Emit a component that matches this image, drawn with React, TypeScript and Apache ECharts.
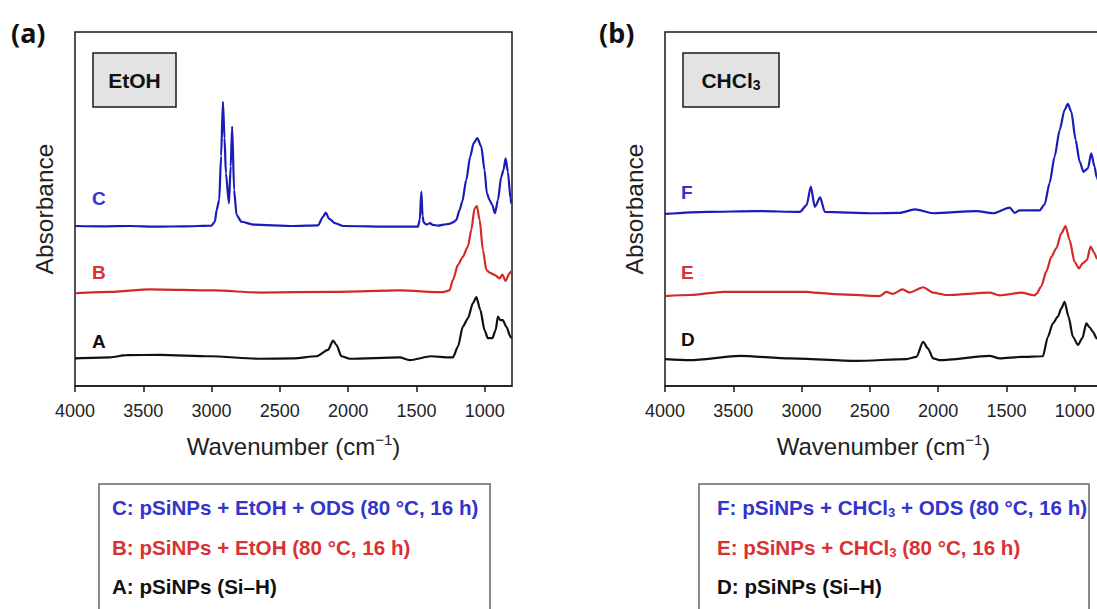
import React, { useEffect, useRef } from 'react';
import * as echarts from 'echarts';

// ---- Data (wavenumber cm^-1, absorbance a.u. offset traces) ----
const tickValues = [4000, 3500, 3000, 2500, 2000, 1500, 1000];

const seriesC: [number, number][] = [
  [4000, 45.2], [3800, 45.1], [3600, 45.2], [3400, 45.0], [3200, 45.1], [3000, 45.3], [2975, 46.5],
  [2963, 49.7], [2944, 52.6], [2930, 65.0], [2917, 80.3], [2905, 70.0], [2895, 60.1], [2873, 51.6],
  [2860, 62.0], [2849, 73.3], [2835, 55.4], [2817, 48.3], [2781, 46.4], [2696, 45.6], [2403, 45.2],
  [2220, 45.4], [2184, 47.8], [2164, 49.0], [2140, 47.3], [2098, 46.0], [2037, 45.2], [1671, 45.0],
  [1489, 45.0], [1475, 47.0], [1464, 54.9], [1455, 48.0], [1447, 46.2], [1427, 45.6], [1400, 46.0],
  [1380, 45.5], [1340, 45.3], [1300, 45.6], [1260, 45.8], [1233, 46.2], [1208, 46.9], [1184, 49.7],
  [1164, 52.1], [1135, 58.2], [1106, 64.8], [1081, 68.6], [1054, 70.0], [1025, 67.6], [1001, 61.0],
  [984, 54.4], [964, 52.5], [944, 51.1], [925, 48.8], [903, 52.5], [879, 59.1], [862, 61.0],
  [847, 64.3], [830, 60.5], [811, 53.0], [805, 51.5],
];

const seriesB: [number, number][] = [
  [4000, 26.2], [3744, 26.6], [3451, 27.3], [2988, 27.0], [2647, 26.4], [2110, 26.6], [1623, 27.0],
  [1306, 26.5], [1257, 27.0], [1233, 29.9], [1196, 34.2], [1160, 36.5], [1123, 39.4], [1098, 44.1],
  [1074, 50.2], [1057, 50.8], [1037, 46.9], [1013, 38.4], [988, 32.8], [964, 32.0], [928, 31.4],
  [891, 30.4], [871, 31.5], [847, 29.7], [818, 31.8], [805, 32.5],
];

const seriesA: [number, number][] = [
  [4000, 7.8], [3744, 8.1], [3622, 8.7], [3378, 8.8], [3012, 8.4], [2647, 7.7], [2403, 7.8],
  [2232, 8.4], [2147, 10.2], [2110, 12.8], [2086, 11.6], [2049, 8.4], [1988, 7.7], [1623, 8.1],
  [1550, 7.3], [1391, 8.4], [1257, 8.1], [1233, 8.1], [1196, 11.1], [1160, 16.8], [1123, 19.1],
  [1086, 23.4], [1061, 25.1], [1032, 21.5], [1001, 15.8], [977, 13.5], [944, 13.5], [920, 15.8],
  [903, 19.6], [886, 18.6], [867, 18.6], [842, 16.8], [811, 13.9], [805, 13.5],
];

const seriesF: [number, number][] = [
  [4000, 48.6], [3695, 49.2], [3329, 49.4], [3012, 49.2], [2963, 51.1], [2932, 56.3], [2903, 50.6],
  [2864, 53.3], [2830, 49.2], [2476, 48.8], [2281, 48.9], [2171, 49.9], [2037, 48.8], [1720, 49.4],
  [1598, 48.8], [1476, 50.4], [1440, 48.9], [1403, 49.6], [1257, 49.6], [1220, 51.3], [1184, 57.3],
  [1147, 64.8], [1110, 72.3], [1074, 78.0], [1050, 79.7], [1025, 77.5], [993, 69.5], [964, 63.4],
  [935, 60.5], [903, 61.5], [879, 65.7], [854, 61.9], [840, 59.1], [820, 57.0],
];

const seriesE: [number, number][] = [
  [4000, 25.4], [3817, 25.7], [3573, 26.6], [3208, 26.6], [2963, 26.6], [2915, 26.4], [2720, 25.9],
  [2427, 25.4], [2378, 26.6], [2330, 26.0], [2261, 27.3], [2208, 26.4], [2110, 27.9], [2037, 26.4],
  [1939, 25.7], [1623, 26.4], [1549, 25.6], [1391, 26.4], [1293, 25.6], [1281, 26.0], [1245, 28.1],
  [1208, 32.3], [1171, 36.5], [1135, 38.9], [1098, 43.1], [1067, 45.2], [1037, 41.2], [1001, 35.1],
  [969, 33.2], [940, 34.7], [910, 35.6], [884, 39.4], [854, 37.5], [840, 36.1], [820, 35.0],
];

const seriesD: [number, number][] = [
  [4000, 7.6], [3817, 7.3], [3451, 8.5], [3086, 7.8], [2598, 7.1], [2232, 7.6], [2159, 8.2],
  [2110, 12.5], [2074, 10.6], [2037, 7.8], [1988, 7.3], [1623, 8.5], [1549, 7.8], [1391, 8.2],
  [1233, 8.4], [1196, 13.9], [1160, 17.7], [1123, 19.6], [1098, 21.9], [1074, 23.8], [1045, 19.6],
  [1013, 13.9], [976, 11.6], [944, 13.5], [915, 17.7], [891, 16.6], [866, 15.3], [840, 13.5],
  [820, 12.5],
];

const legendA = [
  'C: pSiNPs + EtOH + ODS (80 °C, 16 h)',
  'B: pSiNPs + EtOH (80 °C, 16 h)',
  'A: pSiNPs (Si–H)',
];

const BLUE = '#1b1bb8';
const BLUE_T = '#3434cc';
const RED = '#d22a2a';
const RED_T = '#d83232';
const BLACK = '#111111';
const FONT = '"Liberation Sans", Arial, sans-serif';
const LEG = 20.6;

function makeXAxis(gridIndex: number) {
  return {
    type: 'value',
    gridIndex,
    inverse: true,
    min: 800,
    max: 4000,
    axisLine: { show: true, onZero: false, lineStyle: { color: '#1a1a1a', width: 1.5 } },
    axisTick: { show: true, customValues: tickValues, length: 6, inside: false, lineStyle: { color: '#1a1a1a', width: 1.5 } },
    axisLabel: {
      customValues: tickValues,
      fontSize: 18,
      color: '#222',
      margin: 16,
      fontFamily: FONT,
      showMinLabel: true,
      formatter: (v: number) => String(v),
    },
    splitLine: { show: false },
    name: '{n|Wavenumber (cm}{s|−1}{n|)}',
    nameLocation: 'middle',
    nameGap: 46,
    nameTextStyle: {
      rich: {
        n: { fontSize: 24, fontFamily: FONT, color: '#222', lineHeight: 28 },
        s: { fontSize: 15, fontFamily: FONT, color: '#222', lineHeight: 14, verticalAlign: 'top' },
      },
    },
  };
}

function makeYAxis(gridIndex: number) {
  return {
    type: 'value',
    gridIndex,
    min: 0,
    max: 100,
    axisLine: { show: false },
    axisTick: { show: false },
    axisLabel: { show: false },
    splitLine: { show: false },
    name: 'Absorbance',
    nameLocation: 'middle',
    nameGap: 18,
    nameRotate: 90,
    nameTextStyle: { fontSize: 24.5, fontFamily: FONT, color: '#222' },
  };
}

function line(data: [number, number][], color: string, idx: number) {
  return {
    type: 'line',
    xAxisIndex: idx,
    yAxisIndex: idx,
    data,
    showSymbol: false,
    smooth: 0.25,
    smoothMonotone: 'x',
    lineStyle: { color, width: 2.2 },
    itemStyle: { color },
    z: 3,
  };
}

function txt(x: number, y: number, text: string, fill: string, size: number, align = 'left') {
  return {
    type: 'text',
    x,
    y,
    z: 10,
    style: {
      text,
      fill,
      font: `bold ${size}px ${FONT}`,
      align,
      verticalAlign: 'middle',
    },
  };
}

export default function App() {
  const ref = useRef<HTMLDivElement>(null);
  useEffect(() => {
    if (!ref.current) return;
    const chart = echarts.init(ref.current, null, { renderer: 'svg' });
    const subRich = (color: string, size: number) => ({
      m: { fontSize: size, fontWeight: 'bold', fontFamily: FONT, fill: color, lineHeight: 24 },
      s: { fontSize: Math.round(size * 0.65), fontWeight: 'bold', fontFamily: FONT, fill: color, lineHeight: 12, verticalAlign: 'bottom' },
    });
    const gridBase = {
      top: 32, width: 437, height: 354, show: true, borderColor: '#1a1a1a', borderWidth: 1.5,
      backgroundColor: 'transparent', containLabel: false, outerBoundsMode: 'none',
    };
    chart.setOption({
      animation: false,
      backgroundColor: '#ffffff',
      grid: [
        { ...gridBase, left: 75 },
        { ...gridBase, left: 665 },
      ],
      xAxis: [makeXAxis(0), makeXAxis(1)],
      yAxis: [makeYAxis(0), makeYAxis(1)],
      series: [
        line(seriesC, BLUE, 0),
        line(seriesB, RED, 0),
        line(seriesA, BLACK, 0),
        line(seriesF, BLUE, 1),
        line(seriesE, RED, 1),
        line(seriesD, BLACK, 1),
      ],
      graphic: [
        { type: 'text', x: 11, y: 32, style: { text: '(a)', font: `bold 27px "Noto Sans", ${FONT}`, fill: '#111', verticalAlign: 'middle' } },
        { type: 'text', x: 599, y: 32, style: { text: '(b)', font: `bold 27px "Noto Sans", ${FONT}`, fill: '#111', verticalAlign: 'middle' } },
        { type: 'rect', shape: { x: 93, y: 53, width: 83, height: 54 }, style: { fill: '#e3e3e3', stroke: '#1a1a1a', lineWidth: 1.5 }, z: 5 },
        txt(134.5, 80, 'EtOH', '#111', 21, 'center'),
        { type: 'rect', shape: { x: 683, y: 53, width: 96, height: 54 }, style: { fill: '#e3e3e3', stroke: '#1a1a1a', lineWidth: 1.5 }, z: 5 },
        {
          type: 'text', x: 731, y: 80, z: 10,
          style: { text: '{m|CHCl}{s|3}', align: 'center', verticalAlign: 'middle', rich: subRich('#111', 21) },
        },
        txt(92, 198, 'C', BLUE_T, 19),
        txt(92, 272, 'B', RED_T, 19),
        txt(92, 341, 'A', BLACK, 19),
        txt(681, 192, 'F', BLUE_T, 19),
        txt(681, 272, 'E', RED_T, 19),
        txt(681, 339, 'D', BLACK, 19),
        { type: 'rect', shape: { x: 99, y: 484, width: 391, height: 200 }, style: { fill: '#fff', stroke: '#8a8a8a', lineWidth: 2 }, z: 5 },
        txt(112, 507, legendA[0], BLUE_T, LEG),
        txt(112, 547, legendA[1], RED_T, LEG),
        txt(112, 586, legendA[2], BLACK, LEG),
        { type: 'rect', shape: { x: 699, y: 484, width: 390, height: 200 }, style: { fill: '#fff', stroke: '#8a8a8a', lineWidth: 2 }, z: 5 },
        {
          type: 'text', x: 717, y: 507, z: 10,
          style: { text: '{m|F: pSiNPs + CHCl}{s|3}{m| + ODS (80 °C, 16 h)}', align: 'left', verticalAlign: 'middle', rich: subRich(BLUE_T, LEG) },
        },
        {
          type: 'text', x: 717, y: 547, z: 10,
          style: { text: '{m|E: pSiNPs + CHCl}{s|3}{m| (80 °C, 16 h)}', align: 'left', verticalAlign: 'middle', rich: subRich(RED_T, LEG) },
        },
        txt(717, 586, 'D: pSiNPs (Si–H)', BLACK, LEG),
      ],
    });
    return () => chart.dispose();
  }, []);
  return (
    <div
      ref={ref}
      style={{ position: 'fixed', left: 0, top: 0, width: 1097, height: 609, background: '#fff' }}
    />
  );
}
